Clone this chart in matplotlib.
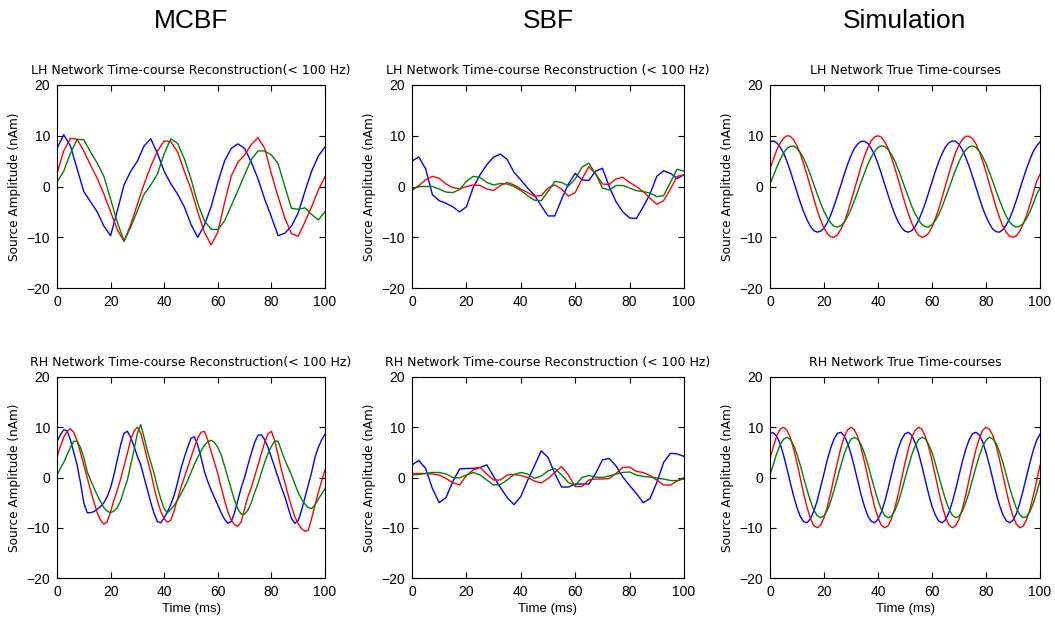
import matplotlib
matplotlib.use("Agg")
import matplotlib.pyplot as plt

plt.rcParams['font.family'] = ['Liberation Sans', 'DejaVu Sans']

# time grids (ms)
time_coarse = [0, 2.5, 5, 7.5, 10, 12.5, 15, 17.5, 20, 22.5, 25, 27.5, 30, 32.5, 35, 37.5,
               40, 42.5, 45, 47.5, 50, 52.5, 55, 57.5, 60, 62.5, 65, 67.5, 70, 72.5, 75,
               77.5, 80, 82.5, 85, 87.5, 90, 92.5, 95, 97.5, 100]
time_fine = [0, 1.25, 2.5, 3.75, 5, 6.25, 7.5, 8.75, 10, 11.25, 12.5, 13.75, 15, 16.25, 17.5,
             18.75, 20, 21.25, 22.5, 23.75, 25, 26.25, 27.5, 28.75, 30, 31.25, 32.5, 33.75,
             35, 36.25, 37.5, 38.75, 40, 41.25, 42.5, 43.75, 45, 46.25, 47.5, 48.75, 50,
             51.25, 52.5, 53.75, 55, 56.25, 57.5, 58.75, 60, 61.25, 62.5, 63.75, 65, 66.25,
             67.5, 68.75, 70, 71.25, 72.5, 73.75, 75, 76.25, 77.5, 78.75, 80, 81.25, 82.5,
             83.75, 85, 86.25, 87.5, 88.75, 90, 91.25, 92.5, 93.75, 95, 96.25, 97.5, 98.75, 100]

# ---- LH, MCBF (coarse grid) ----
lh_mcbf_blue = [7.5, 10.2, 8.0, 3.5, -1.0, -3.0, -5.0, -7.8, -9.7, -4.8, 0.3, 3.0, 5.0, 8.0, 9.4, 6.5,
                3.0, 0.5, -1.5, -4.0, -7.5, -10.0, -7.6, -4.0, 0.8, 5.0, 7.5, 8.4, 7.5, 4.8, 1.5,
                -2.5, -6.0, -9.7, -9.2, -7.8, -5.2, -1.0, 3.0, 6.0, 7.8]
lh_mcbf_red = [2.5, 7.0, 9.5, 9.3, 7.0, 4.2, 1.6, -1.5, -5.0, -8.5, -10.8, -7.5, -3.5, 0.5, 4.0, 7.0,
               9.0, 8.8, 6.8, 3.0, -0.5, -5.0, -9.0, -11.5, -9.0, -3.2, 2.0, 4.8, 6.2, 8.3, 9.6,
               7.5, 2.5, -2.0, -6.2, -9.3, -9.8, -7.0, -4.0, -0.7, 1.9]
lh_mcbf_green = [0.9, 3.0, 6.5, 9.3, 9.2, 6.8, 4.6, 2.0, -2.5, -7.0, -10.8, -8.0, -4.8, -1.5, 0.3, 2.5,
                 6.5, 9.4, 8.5, 5.5, 1.5, -3.3, -6.8, -8.4, -8.5, -6.8, -3.8, -0.8, 2.3, 5.3, 7.0,
                 7.0, 6.2, 4.5, 0.0, -4.3, -4.5, -4.2, -5.5, -6.6, -5.0]

# ---- LH, SBF (coarse grid) ----
lh_sbf_blue = [5.0, 5.8, 3.5, -1.6, -2.8, -3.3, -4.0, -5.0, -4.0, -0.2, 2.3, 4.3, 5.8, 6.4, 5.3, 2.8,
               1.3, -0.3, -1.7, -3.8, -5.8, -5.8, -2.5, 0.5, 2.6, 1.3, 1.2, 3.0, 3.6, 0.0, -3.0,
               -5.0, -6.2, -6.3, -4.0, -1.5, 2.0, 3.1, 2.6, 1.6, 2.3]
lh_sbf_red = [-0.8, 0.2, 1.3, 2.0, 1.6, 0.5, -0.2, -0.5, 0.0, 0.3, 0.2, -0.5, -0.8, 0.2, 0.8, 0.3,
              -0.5, -1.2, -1.9, -1.8, -0.3, 0.3, -0.5, -1.9, -1.2, 1.5, 3.9, 2.5, 0.5, 0.4, 1.5,
              1.8, 0.8, 0.0, -1.0, -2.3, -3.5, -2.8, -0.5, 2.0, 2.3]
lh_sbf_green = [-0.5, 0.0, 0.0, 0.0, -0.5, -1.1, -1.2, -0.6, 1.0, 2.0, 1.8, 0.8, 0.3, 0.6, 0.5, 0.0,
                -0.8, -1.8, -2.7, -2.8, -1.0, 1.0, 0.8, 0.1, 1.5, 3.8, 4.6, 2.5, -0.3, -0.7, 0.2,
                0.2, -0.3, -0.8, -1.0, -1.3, -2.0, -1.8, 0.8, 3.4, 3.0]

# ---- LH, Simulation (fine grid) ----
lh_sim_blue = [8.8, 9.0, 8.6, 7.8, 6.6, 5.0, 3.1, 1.0, -1.1, -3.2, -5.0, -6.6, -7.9, -8.7, -9.0, -8.8,
               -8.2, -7.1, -5.6, -3.8, -1.8, 0.3, 2.4, 4.4, 6.1, 7.5, 8.4, 8.9, 8.9, 8.5, 7.5,
               6.2, 4.5, 2.5, 0.4, -1.7, -3.7, -5.5, -7.0, -8.1, -8.8, -9.0, -8.7, -7.9, -6.7,
               -5.1, -3.3, -1.2, 0.9, 3.0, 4.9, 6.5, 7.8, 8.6, 9.0, 8.9, 8.3, 7.2, 5.7, 4.0,
               2.0, -0.1, -2.2, -4.2, -5.9, -7.3, -8.4, -8.9, -9.0, -8.5, -7.6, -6.3, -4.6,
               -2.7, -0.6, 1.5, 3.5, 5.3, 6.9, 8.0, 8.8]
lh_sim_red = [3.5, 5.3, 7.2, 8.6, 9.5, 10.0, 9.9, 9.2, 8.0, 6.4, 4.4, 2.2, -0.1, -2.5, -4.7, -6.6,
              -8.2, -9.3, -9.9, -10.0, -9.5, -8.4, -7.0, -5.1, -2.9, -0.6, 1.7, 4.0, 6.0, 7.7,
              9.0, 9.8, 10.0, 9.7, 8.8, 7.5, 5.7, 3.6, 1.4, -1.0, -3.3, -5.4, -7.2, -8.6, -9.6,
              -10.0, -9.8, -9.2, -8.0, -6.3, -4.4, -2.1, 0.2, 2.5, 4.7, 6.7, 8.2, 9.3, 9.9, 9.9,
              9.4, 8.4, 6.9, 5.0, 2.9, 0.5, -1.8, -4.1, -6.1, -7.8, -9.0, -9.8, -10.0, -9.7,
              -8.8, -7.4, -5.7, -3.6, -1.3, 1.0, 2.4]
lh_sim_green = [0.5, 2.1, 3.8, 5.3, 6.6, 7.5, 7.9, 8.0, 7.5, 6.7, 5.5, 4.0, 2.3, 0.4, -1.5, -3.3,
                -4.9, -6.2, -7.2, -7.8, -8.0, -7.7, -7.0, -5.9, -4.5, -2.8, -1.0, 0.9, 2.7, 4.4,
                5.8, 6.9, 7.7, 8.0, 7.9, 7.3, 6.3, 5.0, 3.4, 1.6, -0.3, -2.1, -3.9, -5.4, -6.6,
                -7.5, -7.9, -8.0, -7.5, -6.7, -5.5, -4.0, -2.2, -0.4, 1.5, 3.3, 4.9, 6.3, 7.2,
                7.8, 8.0, 7.7, 7.0, 5.9, 4.5, 2.8, 1.0, -0.9, -2.7, -4.4, -5.9, -7.0, -7.7, -8.0,
                -7.8, -7.3, -6.3, -5.0, -3.4, -1.6, -0.3]

# ---- RH, MCBF (fine grid) ----
rh_mcbf_blue = [7.1, 8.5, 9.5, 9.3, 7.5, 5.0, 2.5, -1.0, -5.0, -7.0, -7.0, -6.8, -6.3, -5.8, -5.0,
                -3.8, -2.0, 0.5, 3.5, 6.5, 8.8, 9.2, 8.0, 6.2, 4.2, 2.5, 0.0, -2.5, -5.0, -7.2,
                -8.8, -9.0, -8.0, -6.8, -5.3, -3.5, -1.0, 1.8, 4.0, 6.0, 7.8, 8.1, 6.5, 4.0, 1.2,
                -0.8, -2.5, -4.0, -5.5, -7.0, -8.3, -9.1, -8.8, -7.0, -4.5, -2.0, 0.0, 2.5, 4.8,
                7.0, 8.4, 8.5, 7.5, 6.0, 4.0, 2.0, 0.0, -2.0, -3.8, -6.0, -8.2, -9.1, -8.6, -6.5,
                -4.0, -1.5, 1.0, 4.0, 6.0, 7.5, 8.6]
rh_mcbf_red = [4.0, 6.2, 8.0, 9.2, 9.7, 9.0, 7.3, 5.0, 2.5, 0.0, -2.5, -4.8, -7.0, -8.5, -9.3, -8.8,
               -6.8, -4.5, -2.5, -0.3, 2.3, 4.8, 7.5, 9.3, 10.0, 8.8, 6.3, 3.5, 1.0, -2.0, -4.7,
               -6.8, -8.2, -8.9, -8.5, -6.5, -4.2, -2.0, 0.0, 2.0, 4.0, 6.0, 7.8, 9.0, 9.2, 7.5,
               5.2, 3.0, 0.8, -2.0, -4.5, -6.8, -8.5, -9.4, -9.7, -8.8, -6.2, -3.8, -2.0, 0.2,
               2.5, 4.8, 7.0, 8.7, 9.2, 7.3, 4.5, 1.5, -1.0, -3.5, -5.8, -7.8, -9.2, -10.2,
               -10.7, -10.5, -8.2, -5.5, -3.0, -0.7, 1.5]
rh_mcbf_green = [0.5, 1.8, 3.0, 4.5, 6.0, 7.2, 7.2, 6.0, 4.0, 1.2, -0.5, -2.0, -3.5, -4.8, -6.0,
                 -6.7, -7.0, -6.7, -6.0, -4.6, -2.5, -0.5, 2.5, 5.5, 8.8, 10.5, 8.0, 5.3, 3.0, 0.8,
                 -2.0, -4.3, -6.3, -7.0, -6.3, -5.5, -4.5, -3.3, -2.0, -0.6, 1.0, 2.6, 4.0, 5.3,
                 6.4, 7.1, 7.4, 7.0, 6.0, 4.5, 2.3, 0.0, -2.3, -4.5, -6.3, -7.3, -7.3, -6.5, -5.0,
                 -3.0, -1.2, 1.0, 3.0, 4.8, 6.2, 7.3, 7.2, 5.3, 3.5, 2.0, 0.5, -1.3, -3.0, -4.3,
                 -5.3, -6.0, -6.2, -5.5, -4.3, -3.3, -2.3]

# ---- RH, SBF (coarse grid) ----
rh_sbf_blue = [2.5, 3.4, 1.8, -2.2, -5.0, -4.0, -0.8, 1.7, 1.8, 1.8, 2.0, 2.5, 0.2, -2.0, -4.0, -5.4,
               -3.8, -0.6, 2.3, 5.3, 4.0, 0.8, -1.9, -1.9, -1.3, -1.3, -1.3, 0.8, 3.5, 3.8, 2.3,
               0.1, -1.6, -3.2, -5.0, -4.2, -1.0, 3.0, 4.8, 4.7, 4.2]
rh_sbf_red = [0.8, 0.8, 0.8, 0.7, 0.5, -0.2, -1.0, -1.5, 0.4, 1.5, 2.0, 0.7, -0.5, -0.5, 0.5, 0.6,
              0.4, 0.0, -0.7, -1.1, -0.2, 1.0, 2.2, 0.5, -1.8, -1.8, -0.5, -0.3, -0.3, -0.2, 0.8,
              2.0, 2.1, 1.2, 1.0, 0.4, -0.5, -1.5, -1.5, -0.7, 0.0]
rh_sbf_green = [0.5, 0.6, 0.8, 1.0, 1.0, 0.7, 0.0, -0.1, 0.5, 1.0, 0.5, -0.5, -1.5, -1.4, -0.5, 0.6,
                1.0, 0.7, -0.2, 0.3, 1.3, 1.8, 0.5, -1.0, -1.6, 0.0, 0.4, 0.1, 0.0, 0.3, 0.7,
                1.0, 1.1, 0.5, 0.2, 0.1, -0.1, -0.3, -0.6, -0.6, -0.3]

# ---- RH, Simulation (fine grid) ----
rh_sim_blue = [8.8, 8.9, 8.2, 6.7, 4.5, 1.8, -1.0, -3.7, -6.0, -7.8, -8.8, -9.0, -8.2, -6.7, -4.6,
               -1.9, 0.8, 3.6, 5.9, 7.7, 8.8, 9.0, 8.3, 6.8, 4.7, 2.1, -0.7, -3.5, -5.8, -7.7,
               -8.7, -9.0, -8.3, -6.9, -4.8, -2.2, 0.6, 3.4, 5.8, 7.6, 8.7, 9.0, 8.4, 6.9, 4.9,
               2.3, -0.5, -3.3, -5.7, -7.5, -8.7, -9.0, -8.4, -7.0, -4.9, -2.4, 0.4, 3.2, 5.6,
               7.5, 8.7, 9.0, 8.5, 7.1, 5.0, 2.5, -0.3, -3.1, -5.5, -7.4, -8.6, -9.0, -8.5, -7.2,
               -5.1, -2.6, 0.2, 2.9, 5.4, 7.4, 8.6]
rh_sim_red = [3.8, 6.1, 8.3, 9.6, 10.0, 9.4, 8.0, 5.7, 2.9, -0.2, -3.3, -6.0, -8.2, -9.6, -10.0,
              -9.5, -8.0, -5.8, -3.0, 0.1, 3.1, 5.9, 8.1, 9.5, 10.0, 9.5, 8.1, 5.9, 3.1, 0.1,
              -3.0, -5.8, -8.0, -9.5, -10.0, -9.6, -8.2, -6.0, -3.3, -0.2, 2.9, 5.7, 8.0, 9.4,
              10.0, 9.6, 8.2, 6.1, 3.4, 0.3, -2.8, -5.6, -7.9, -9.4, -10.0, -9.6, -8.3, -6.2,
              -3.5, -0.4, 2.7, 5.5, 7.8, 9.4, 10.0, 9.6, 8.4, 6.3, 3.6, 0.5, -2.6, -5.4, -7.7,
              -9.3, -10.0, -9.7, -8.4, -6.4, -3.7, -0.7, 2.4]
rh_sim_green = [0.5, 2.6, 4.8, 6.5, 7.6, 8.0, 7.6, 6.4, 4.6, 2.4, -0.1, -2.5, -4.7, -6.5, -7.6,
                -8.0, -7.6, -6.5, -4.7, -2.5, 0.0, 2.4, 4.7, 6.4, 7.6, 8.0, 7.6, 6.5, 4.8, 2.6,
                0.1, -2.3, -4.6, -6.4, -7.6, -8.0, -7.7, -6.6, -4.9, -2.7, -0.2, 2.2, 4.5, 6.3,
                7.5, 8.0, 7.7, 6.6, 5.0, 2.8, 0.3, -2.1, -4.4, -6.2, -7.5, -8.0, -7.7, -6.7,
                -5.0, -2.9, -0.4, 2.0, 4.3, 6.2, 7.4, 8.0, 7.7, 6.8, 5.1, 3.0, 0.5, -2.0, -4.2,
                -6.1, -7.4, -8.0, -7.8, -6.8, -5.2, -3.0, -0.6]

column_headers = ["MCBF", "SBF", "Simulation"]
panel_titles = [
    ["LH Network Time-course Reconstruction(< 100 Hz)",
     "LH Network Time-course Reconstruction (< 100 Hz)",
     "LH Network True Time-courses"],
    ["RH Network Time-course Reconstruction(< 100 Hz)",
     "RH Network Time-course Reconstruction (< 100 Hz)",
     "RH Network True Time-courses"],
]
panel_time = [[time_coarse, time_coarse, time_fine],
              [time_fine, time_coarse, time_fine]]
panel_data = [
    [(lh_mcbf_blue, lh_mcbf_red, lh_mcbf_green),
     (lh_sbf_blue, lh_sbf_red, lh_sbf_green),
     (lh_sim_blue, lh_sim_red, lh_sim_green)],
    [(rh_mcbf_blue, rh_mcbf_red, rh_mcbf_green),
     (rh_sbf_blue, rh_sbf_red, rh_sbf_green),
     (rh_sim_blue, rh_sim_red, rh_sim_green)],
]
x_ticks = [0, 20, 40, 60, 80, 100]
y_ticks = [-20, -10, 0, 10, 20]
line_colors = ["#0000ff", "#ff0000", "#008000"]

W, H = 1055, 626
fig = plt.figure(figsize=(W / 100, H / 100), dpi=100)

col_px = [(57, 325), (412, 684), (770, 1040)]
row_px = [(85, 288), (377, 578)]

for r in range(2):
    for c in range(3):
        l, rr = col_px[c]
        t, b = row_px[r]
        ax = fig.add_axes([l / W, 1 - b / H, (rr - l) / W, (b - t) / H])
        for series, col in zip(panel_data[r][c], line_colors):
            ax.plot(panel_time[r][c], series, color=col, lw=1.0)
        ax.set_xlim(0, 100)
        ax.set_ylim(-20, 20)
        ax.set_xticks(x_ticks)
        ax.set_yticks(y_ticks)
        ax.tick_params(direction='in', top=True, right=True, length=4, width=0.8,
                       labelsize=10, pad=5)
        for sp in ax.spines.values():
            sp.set_linewidth(0.8)
        ax.set_title(panel_titles[r][c], fontsize=9, pad=8, family=['DejaVu Sans'])
        ax.set_ylabel("Source Amplitude (nAm)", fontsize=8.7, labelpad=4,
                      family=['DejaVu Sans'])
        if r == 1:
            ax.set_xlabel("Time (ms)", fontsize=9.5, labelpad=3)
        if r == 0:
            fig.text((l + rr) / 2 / W, 1 - 21 / H, column_headers[c], ha='center',
                     va='center', fontsize=19)

fig.savefig("out.png", dpi=100, facecolor='white')
